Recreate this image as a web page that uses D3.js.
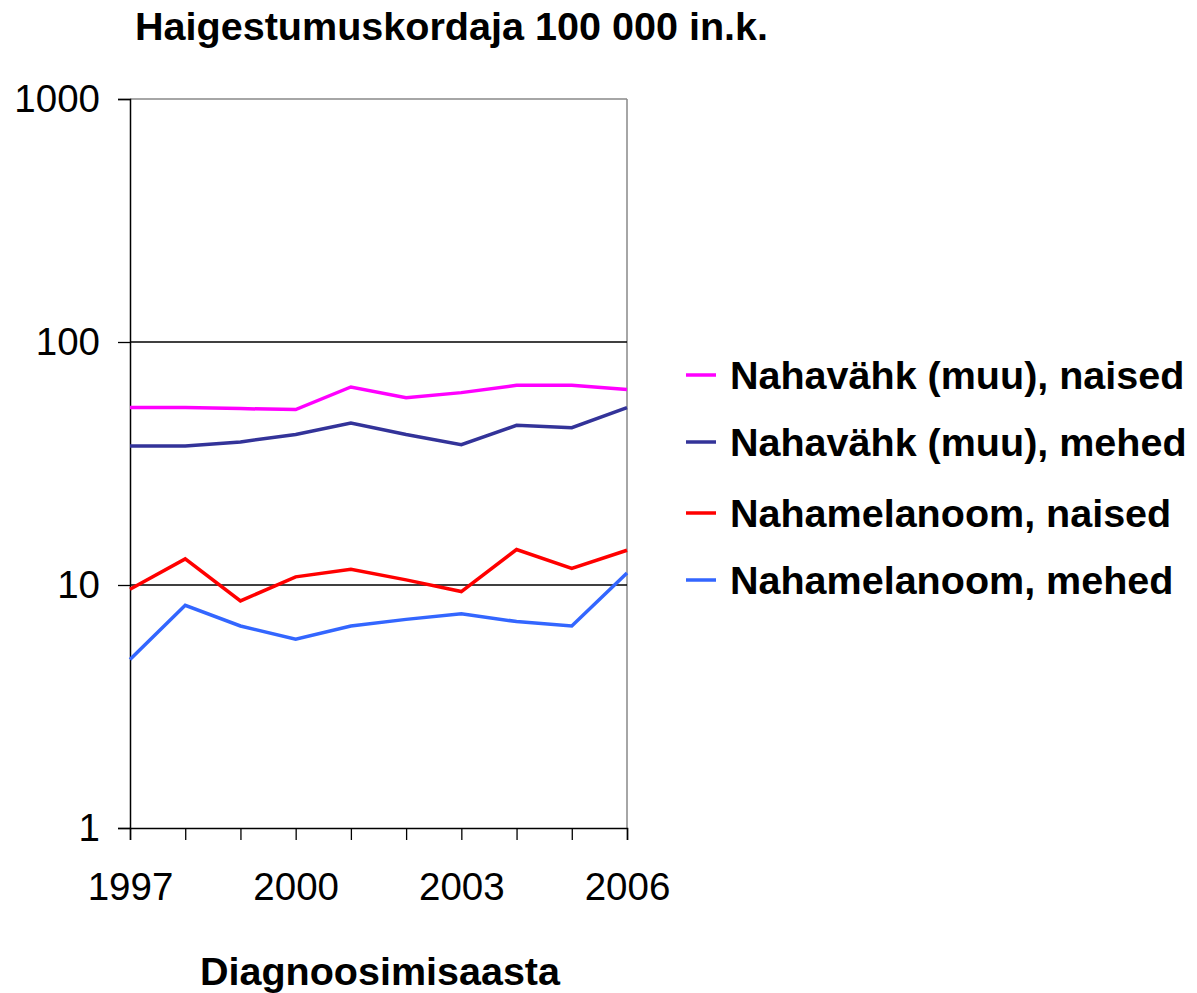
<!DOCTYPE html>
<html><head><meta charset="utf-8">
<script src="https://cdn.jsdelivr.net/npm/d3@7"></script>
<style>body{margin:0;background:#fff}svg{display:block}text{font-family:"Liberation Sans",Arial,sans-serif}</style>
</head><body><svg id="c" width="1197" height="993"></svg>
<script>
const years = [1997,1998,1999,2000,2001,2002,2003,2004,2005,2006];
const yearLabels = [1997,2000,2003,2006];
const yTicks = [1,10,100,1000];
const seriesNames = ["Nahavähk (muu), naised","Nahavähk (muu), mehed","Nahamelanoom, naised","Nahamelanoom, mehed"];
const seriesColors = ["#FF00FF","#333399","#FF0000","#3366FF"];
const nahavahkNaised = [53.7,53.7,53.2,52.7,65.3,59.0,61.9,66.3,66.3,63.7];
const nahavahkMehed = [37.3,37.3,38.8,41.6,46.4,41.6,37.8,45.4,44.4,53.7];
const melanoomNaised = [9.6,12.8,8.6,10.8,11.6,10.5,9.4,14.0,11.7,13.9];
const melanoomMehed = [4.94,8.25,6.78,5.98,6.78,7.22,7.62,7.07,6.78,11.2];
const seriesValues = [nahavahkNaised,nahavahkMehed,melanoomNaised,melanoomMehed];
const title = "Haigestumuskordaja 100 000 in.k.";
const xTitle = "Diagnoosimisaasta";

const svg = d3.select("#c");
const L=130,R=627,T=99,B=828;
const x = d3.scaleLinear().domain([1997,2006]).range([L,R]);
const y = d3.scaleLog().domain([1,1000]).range([B,T]);

// top/right border
svg.append("line").attr("x1",L).attr("x2",R).attr("y1",T).attr("y2",T).attr("stroke","#888").attr("stroke-width",1.5);
svg.append("line").attr("x1",R).attr("x2",R).attr("y1",T).attr("y2",B).attr("stroke","#888").attr("stroke-width",1.5);
// gridlines
svg.append("g").selectAll("line").data([10,100]).join("line")
  .attr("x1",L).attr("x2",R).attr("y1",d=>y(d)).attr("y2",d=>y(d)).attr("stroke","#000").attr("stroke-width",1.3);

// y axis
const ya = svg.append("g").attr("transform",`translate(${L},0)`)
  .call(d3.axisLeft(y).tickValues(yTicks).tickFormat(d3.format("d")).tickSize(12).tickPadding(18));
ya.select(".domain").attr("stroke","#000").attr("stroke-width",1.5);
ya.selectAll(".tick line").attr("stroke","#000").attr("stroke-width",1.3);
ya.selectAll("text").attr("font-size",38.5).attr("fill","#000").attr("font-family","Liberation Sans, Arial, sans-serif");

// x axis
const xa = svg.append("g").attr("transform",`translate(0,${B})`)
  .call(d3.axisBottom(x).tickValues(years).tickFormat(d=>yearLabels.includes(d)?d:"").tickSize(12).tickPadding(33));
xa.select(".domain").attr("stroke","#000").attr("stroke-width",1.5);
xa.selectAll(".tick line").attr("stroke","#000").attr("stroke-width",1.3);
xa.selectAll("text").attr("font-size",38.5).attr("fill","#000").attr("font-family","Liberation Sans, Arial, sans-serif");

// lines
const line = d3.line().x((d,i)=>x(years[i])).y(d=>y(d));
seriesValues.forEach((vals,k)=>{
  svg.append("path").datum(vals).attr("d",line).attr("fill","none")
    .attr("stroke",seriesColors[k]).attr("stroke-width",3.5).attr("stroke-linejoin","miter");
});

// title
svg.append("text").attr("x",135).attr("y",40).attr("font-size",38).attr("font-weight","bold")
  .attr("textLength",633).attr("lengthAdjust","spacingAndGlyphs").text(title);
svg.append("text").attr("x",200).attr("y",985).attr("font-size",38.5).attr("font-weight","bold")
  .attr("textLength",360).attr("lengthAdjust","spacingAndGlyphs").text(xTitle);

// legend
const lg = svg.append("g");
const rowY = [375,442,513,580];
seriesNames.forEach((n,k)=>{
  lg.append("line").attr("x1",686).attr("x2",716).attr("y1",rowY[k]).attr("y2",rowY[k]).attr("stroke",seriesColors[k]).attr("stroke-width",3.5);
  lg.append("text").attr("x",730).attr("y",rowY[k]+14).attr("font-size",39.5).attr("font-weight","bold").text(n);
});
</script></body></html>
